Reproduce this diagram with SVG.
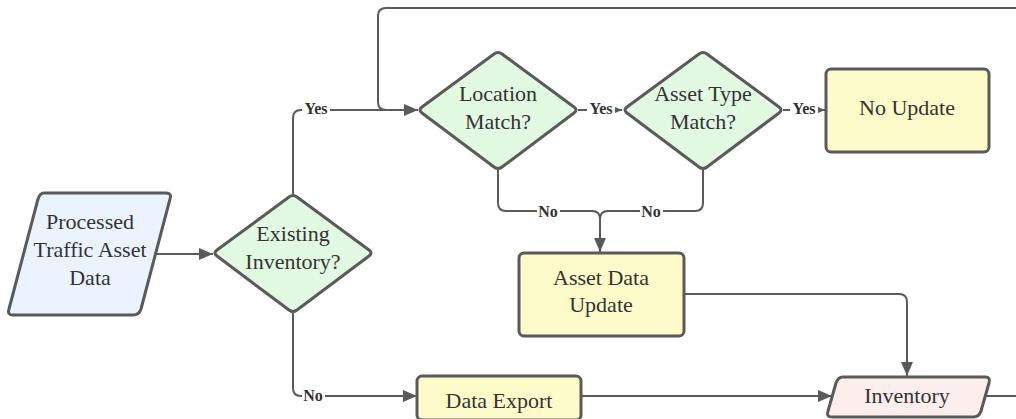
<svg xmlns="http://www.w3.org/2000/svg" width="1016" height="419" viewBox="0 0 1016 419">
<style>
.node{stroke:#5a5a5a;stroke-width:3;stroke-linejoin:round}
.dec{fill:#e2f9e2}
.proc{fill:#fdfbc9}
.io{fill:#eaf3fe}
.inv{fill:#fdeeee}
.t{font-family:"Liberation Serif",serif;font-size:22px;fill:#333;text-anchor:middle}
.edge{fill:none;stroke:#5a5a5a;stroke-width:2}
.lbl{font-family:"Liberation Serif",serif;font-size:16px;font-weight:bold;fill:#333;text-anchor:middle}
.lb{fill:#fff}
</style>
<defs>
<marker id="ah" markerUnits="userSpaceOnUse" markerWidth="16" markerHeight="14" refX="14" refY="6" orient="auto">
<path d="M0,0 L14,6 L0,12 Z" fill="#5a5a5a"/>
</marker>
<marker id="as" markerUnits="userSpaceOnUse" markerWidth="8" markerHeight="8" refX="7" refY="3" orient="auto">
<path d="M0,0 L7,3 L0,6 Z" fill="#5a5a5a"/>
</marker>
</defs>
<rect width="1016" height="419" fill="#fff"/>
<g id="connectors">
<path class="edge" d="M156 254 H213" marker-end="url(#ah)"/>
<path class="edge" d="M293 194 V118 Q293 110 301 110 H418" marker-end="url(#ah)"/>
<path class="edge" d="M1016 8 H386 Q378 8 378 16 V102 Q378 110 386 110"/>
<path class="edge" d="M578 110 H622" marker-end="url(#as)"/>
<path class="edge" d="M783 110 H825" marker-end="url(#as)"/>
<path class="edge" d="M498 170 V203 Q498 211 506 211 H592 Q600 211 600 219 V252" marker-end="url(#ah)"/>
<path class="edge" d="M703 170 V203 Q703 211 695 211 H608 Q600 211 600 219"/>
<path class="edge" d="M684 294 H899 Q907 294 907 302 V376" marker-end="url(#ah)"/>
<path class="edge" d="M293 313 V388 Q293 396 301 396 H417" marker-end="url(#ah)"/>
<path class="edge" d="M581 396 H832" marker-end="url(#ah)"/>
<path class="edge" d="M984 396 H1016"/>
<rect class="lb" x="302" y="101" width="28" height="16"/>
<text class="lbl" x="316" y="114">Yes</text>
<rect class="lb" x="587" y="102" width="28" height="16"/>
<text class="lbl" x="601" y="114">Yes</text>
<rect class="lb" x="790" y="102" width="28" height="16"/>
<text class="lbl" x="804" y="114">Yes</text>
<rect class="lb" x="537" y="203" width="23" height="16"/>
<text class="lbl" x="548" y="217">No</text>
<rect class="lb" x="640" y="203" width="23" height="16"/>
<text class="lbl" x="651" y="217">No</text>
<rect class="lb" x="302" y="388" width="23" height="16"/>
<text class="lbl" x="313" y="401">No</text>
</g>
<g id="processed">
<path class="node io" d="M44 193 H166 Q172 193 170 199 L141 309 Q139 315 133 315 H13 Q7 315 9 309 L38 199 Q40 193 44 193 Z"/>
<text class="t" x="90" y="229">Processed</text>
<text class="t" x="90" y="257">Traffic Asset</text>
<text class="t" x="90" y="285">Data</text>
</g>
<g id="existing">
<path class="node dec" d="M289 197 Q293 194 297 197 L369 250 Q373 253 369 256 L297 310 Q293 313 289 310 L217 256 Q213 253 217 250 Z"/>
<text class="t" x="293" y="241">Existing</text>
<text class="t" x="293" y="269">Inventory?</text>
</g>
<g id="location">
<path class="node dec" d="M494 54 Q498 51 502 54 L574 107 Q578 110 574 113 L502 167 Q498 170 494 167 L422 113 Q418 110 422 107 Z"/>
<text class="t" x="498" y="101">Location</text>
<text class="t" x="498" y="129">Match?</text>
</g>
<g id="assettype">
<path class="node dec" d="M699 54 Q703 51 707 54 L779 107 Q783 110 779 113 L707 167 Q703 170 699 167 L627 113 Q623 110 627 107 Z"/>
<text class="t" x="703" y="101">Asset Type</text>
<text class="t" x="703" y="129">Match?</text>
</g>
<g id="noupdate">
<rect class="node proc" x="826" y="69" width="163" height="83" rx="5"/>
<text class="t" x="907" y="115">No Update</text>
</g>
<g id="assetdataupdate">
<rect class="node proc" x="519" y="253" width="165" height="83" rx="5"/>
<text class="t" x="601" y="285">Asset Data</text>
<text class="t" x="601" y="312">Update</text>
</g>
<g id="dataexport">
<rect class="node proc" x="417" y="376" width="164" height="44" rx="5"/>
<text class="t" x="499" y="408">Data Export</text>
</g>
<g id="inventory">
<path class="node inv" d="M843 377 H985 Q991 377 989 383 L981 411 Q979 417 973 417 H832 Q826 417 828 411 L836 383 Q838 377 843 377 Z"/>
<text class="t" x="907" y="403">Inventory</text>
</g>
</svg>
